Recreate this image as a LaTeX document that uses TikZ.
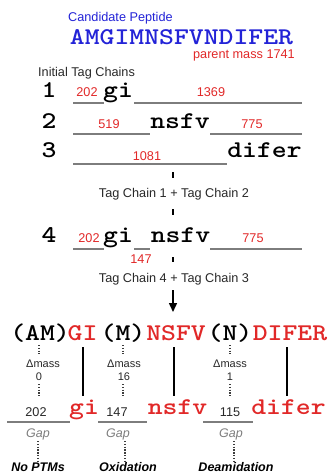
\documentclass[tikz,border=0pt]{standalone}
\usepackage{fontspec}
\setmainfont{Liberation Sans}
\usetikzlibrary{arrows.meta}
\definecolor{pblue}{RGB}{35,35,215}
\definecolor{pred}{RGB}{225,40,40}
\definecolor{lgray}{RGB}{125,125,125}
\definecolor{dgray}{RGB}{60,60,60}
\definecolor{tgray}{RGB}{40,40,40}
\newcommand\mtxt[1]{\scalebox{1.18}[1]{#1}}
\tikzset{
  lbl/.style={inner sep=0pt, font=\fontsize{12.7}{14}\selectfont},
  num/.style={lbl, text=pred, anchor=base},
  bnum/.style={lbl, text=tgray, anchor=base},
  mono/.style={inner sep=0pt, anchor=base, font=\ttfamily\bfseries\fontsize{24}{28}\selectfont},
  redmono/.style={mono, text=pred},
  bar/.style={draw=lgray, line width=1.6pt},
  tickmark/.style={draw=black, line width=1.5pt},
  dots/.style={draw=dgray, line width=1.6pt, dash pattern=on 1.4pt off 1.4pt},
  link/.style={draw=black, line width=1.6pt},
  dmass/.style={inner sep=0pt, anchor=base, text=tgray, font=\fontsize{11}{13}\selectfont},
  gap/.style={inner sep=0pt, anchor=base, text=lgray, font=\itshape\fontsize{12.5}{14}\selectfont},
  ptm/.style={inner sep=0pt, anchor=base, text=black, font=\bfseries\itshape\fontsize{12.5}{14}\selectfont},
}
\begin{document}
\begin{tikzpicture}[x=1pt,y=-1pt]
\useasboundingbox (0,0) rectangle (330,474);
% header
\node[lbl, text=pblue, anchor=base west] (cand) at (68,21) {Candidate Peptide};
\node[mono, text=pblue, text depth=0pt] (pep) at (181.5,44.5) {\mtxt{AMGIMNSFVNDIFER}};
\node[lbl, text=pred, anchor=base east] (pmass) at (295,58.5) {parent mass 1741};
\node[lbl, text=tgray, anchor=base west] (itc) at (38,76) {Initial Tag Chains};
% row 1
\node[mono] (r1) at (49,97) {\mtxt{1}};
\node[num] (r1a) at (87,96.5) {202};
\draw[bar] (73,103) -- (104,103);
\node[mono] (r1gi) at (118,97) {\mtxt{gi}};
\draw[bar] (134,103) -- (302,103);
\node[num] (r1b) at (211,96.5) {1369};
% row 2
\node[mono] (r2) at (49,128) {\mtxt{2}};
\node[num] (r2a) at (109,128.5) {519};
\draw[bar] (73,134) -- (150,134);
\node[mono] (r2t) at (180,128) {\mtxt{nsfv}};
\draw[bar] (210,134) -- (302,134);
\node[num] (r2b) at (252,128.5) {775};
% row 3
\node[mono] (r3) at (49,157) {\mtxt{3}};
\node[num] (r3a) at (147,160.5) {1081};
\draw[bar] (73,164) -- (227,164);
\node[mono] (r3t) at (264.5,157) {\mtxt{difer}};
% merge 1
\draw[tickmark] (173,172) -- (173,178);
\node[lbl, text=tgray, anchor=base] (m1) at (174,197.5) {Tag Chain 1 + Tag Chain 2};
\draw[tickmark] (173,209) -- (173,215);
% row 4
\node[mono] (r4) at (49,242) {\mtxt{4}};
\node[num] (r4a) at (89,242.5) {202};
\draw[bar] (73,249) -- (104,249);
\node[mono] (r4gi) at (118,242) {\mtxt{gi}};
\draw[bar] (134,249) -- (150,249);
\node[num] (r4c) at (141,263.5) {147};
\node[mono] (r4t) at (180.5,242) {\mtxt{nsfv}};
\draw[bar] (210,249) -- (302,249);
\node[num] (r4b) at (253,242.5) {775};
% merge 2
\draw[tickmark] (173,257) -- (173,262);
\node[lbl, text=tgray, anchor=base] (m2) at (174,282.5) {Tag Chain 4 + Tag Chain 3};
\coordinate (arrS) at (173,290);
\coordinate (arrE) at (173,312);
\draw[line width=1.5pt, -{Triangle[length=9pt,width=8pt]}] (arrS) -- (arrE);
% final sequence
\node[mono] (am) at (40,340) {\mtxt{(AM)}};
\node[redmono] (GI) at (82.5,340) {\mtxt{GI}};
\node[mono] (mm) at (123,340) {\mtxt{(M)}};
\node[redmono] (NSFV) at (176,340) {\mtxt{NSFV}};
\node[mono] (nn) at (230,340) {\mtxt{(N)}};
\node[redmono] (DIFER) at (290,340) {\mtxt{DIFER}};
% delta mass columns
\coordinate (c1a) at (39,345); \coordinate (c1b) at (39,354);
\coordinate (c2a) at (123,345); \coordinate (c2b) at (123,354);
\coordinate (c3a) at (230,345); \coordinate (c3b) at (230,354);
\draw[dots] (c1a) -- (c1b);
\draw[dots] (c2a) -- (c2b);
\draw[dots] (c3a) -- (c3b);
\node[dmass] (dm1) at (43,367) {Δmass};
\node[dmass] (dm2) at (124,367) {Δmass};
\node[dmass] (dm3) at (230,367) {Δmass};
\node[dmass] (v1) at (39,380) {0};
\node[dmass] (v2) at (124,380) {16};
\node[dmass] (v3) at (230,380) {1};
\coordinate (c1c) at (39,384); \coordinate (c1d) at (39,396);
\coordinate (c2c) at (123,384); \coordinate (c2d) at (123,396);
\coordinate (c3c) at (230,384); \coordinate (c3d) at (230,396);
\draw[dots] (c1c) -- (c1d);
\draw[dots] (c2c) -- (c2d);
\draw[dots] (c3c) -- (c3d);
% solid links
\coordinate (l1a) at (83,347); \coordinate (l1b) at (83,396);
\coordinate (l2a) at (174,347); \coordinate (l2b) at (174,396);
\coordinate (l3a) at (287,347); \coordinate (l3b) at (287,396);
\draw[link] (l1a) -- (l1b);
\draw[link] (l2a) -- (l2b);
\draw[link] (l3a) -- (l3b);
% lower tags
\node[bnum] (g1) at (36,416.5) {202};
\node[redmono] (gi) at (84,414) {\mtxt{gi}};
\node[bnum] (g2) at (117,416.5) {147};
\node[redmono] (nsfv) at (177.5,414) {\mtxt{nsfv}};
\node[bnum] (g3) at (230,416.5) {115};
\node[redmono] (difer) at (288.5,414) {\mtxt{difer}};
\draw[bar] (7,422) -- (70,422);
\draw[bar] (98,422) -- (147,422);
\draw[bar] (203,422) -- (253,422);
\node[gap] (gap1) at (38,437) {Gap};
\node[gap] (gap2) at (118,437) {Gap};
\node[gap] (gap3) at (231,437) {Gap};
\coordinate (d1a) at (38,441); \coordinate (d1b) at (38,461);
\coordinate (d2a) at (125,441); \coordinate (d2b) at (125,461);
\coordinate (d3a) at (234,441); \coordinate (d3b) at (234,461);
\draw[dots] (d1a) -- (d1b);
\draw[dots] (d2a) -- (d2b);
\draw[dots] (d3a) -- (d3b);
\node[ptm] (p1) at (38,471.5) {No PTMs};
\node[ptm] (p2) at (128,471.5) {Oxidation};
\node[ptm] (p3) at (236,471.5) {Deamidation};
\end{tikzpicture}
\end{document}
